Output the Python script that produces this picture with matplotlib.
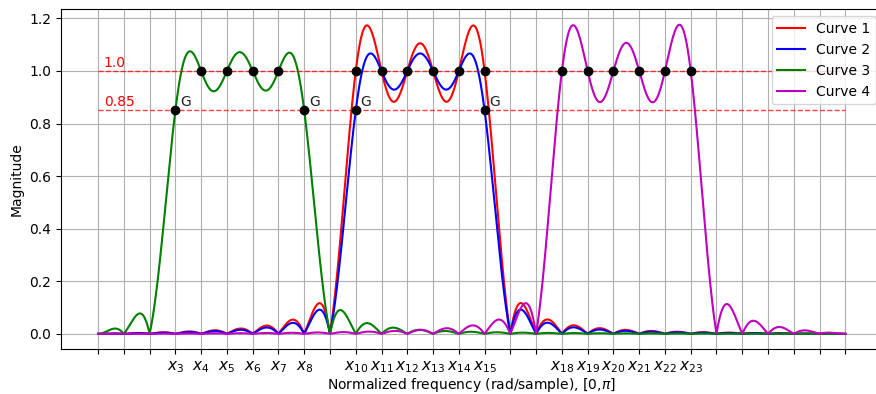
import numpy as np
import matplotlib
matplotlib.use("Agg")
import matplotlib.pyplot as plt

# magnitude samples read at the grid points x0..x29 (0..pi)
curve1 = [0, 0, 0, 0, 0, 0, 0, 0, 0, 0, 1, 1, 1, 1, 1, 1, 0, 0, 0, 0, 0, 0, 0, 0, 0, 0, 0, 0, 0, 0]
curve2 = [0, 0, 0, 0, 0, 0, 0, 0, 0, 0, 0.85, 1, 1, 1, 1, 0.85, 0, 0, 0, 0, 0, 0, 0, 0, 0, 0, 0, 0, 0, 0]
curve3 = [0, 0, 0, 0.85, 1, 1, 1, 1, 0.85, 0, 0, 0, 0, 0, 0, 0, 0, 0, 0, 0, 0, 0, 0, 0, 0, 0, 0, 0, 0, 0]
curve4 = [0, 0, 0, 0, 0, 0, 0, 0, 0, 0, 0, 0, 0, 0, 0, 0, 0, 0, 1, 1, 1, 1, 1, 1, 0, 0, 0, 0, 0, 0]
names = ["Curve 1", "Curve 2", "Curve 3", "Curve 4"]
colors = ["r", "b", "g", "m"]

labelled = [3, 4, 5, 6, 7, 8, 10, 11, 12, 13, 14, 15, 18, 19, 20, 21, 22, 23]
ones_pts = [4, 5, 6, 7, 10, 11, 12, 13, 14, 15, 18, 19, 20, 21, 22, 23]
g_pts = [3, 8, 10, 15]
levels = [1.0, 0.85]


def freq_response(samples, w):
    # cosine interpolation of the frequency samples (symmetric about 0 and pi)
    A = np.array(samples, dtype=float)
    M = len(A) - 1                      # 29
    full = np.concatenate([A, A[1:M][::-1]])   # 2M samples over one period
    wk = np.pi * np.arange(2 * M) / M
    n = np.arange(M + 1)
    c = np.full(M + 1, 2.0)
    c[0] = 1.0
    c[-1] = 1.0
    d = w[:, None] - wk[None, :]
    K = (c[None, None, :] * np.cos(d[:, :, None] * n[None, None, :])).sum(axis=2) / (2 * M)
    return np.abs(K @ full)


n_pts = len(curve1)
xk = np.linspace(0, np.pi, n_pts)
w = np.linspace(0, np.pi, 2000)

fig = plt.figure(figsize=(8.76, 3.94), dpi=100)
# the right edge of the axes falls just outside the picture, as in the original
ax = fig.add_axes([60.7 / 876, 44.7 / 394, 822 / 876, 340 / 394])

for s, name, c in zip([curve1, curve2, curve3, curve4], names, colors):
    ax.plot(w, freq_response(s, w), color=c, lw=1.5, label=name)

for lv in levels:
    ax.plot([0, np.pi], [lv, lv], "--", color="red", lw=1.0, alpha=0.75)
    ax.text(0.024, lv + 0.004, str(lv), color="red", fontsize=10, va="bottom")

ax.plot(xk[ones_pts], [1.0] * len(ones_pts), "o", color="black", ms=6)
ax.plot(xk[g_pts], [0.85] * len(g_pts), "o", color="black", ms=6)
for k in g_pts:
    ax.text(xk[k] + 0.021, 0.855, "G", fontsize=10, va="bottom", color="#222222")

ax.set_xticks(xk)
ax.set_xticklabels(["$x_{%d}$" % k if k in labelled else "" for k in range(n_pts)], fontsize=11)
ax.set_yticks([0.0, 0.2, 0.4, 0.6, 0.8, 1.0, 1.2])
ax.grid(True)
ax.spines["right"].set_visible(False)
ax.set_xlabel("Normalized frequency (rad/sample), [0,$\\pi$]", labelpad=1)
ax.set_ylabel("Magnitude")
ax.legend(loc="upper right")

fig.savefig("out.png", dpi=100)
